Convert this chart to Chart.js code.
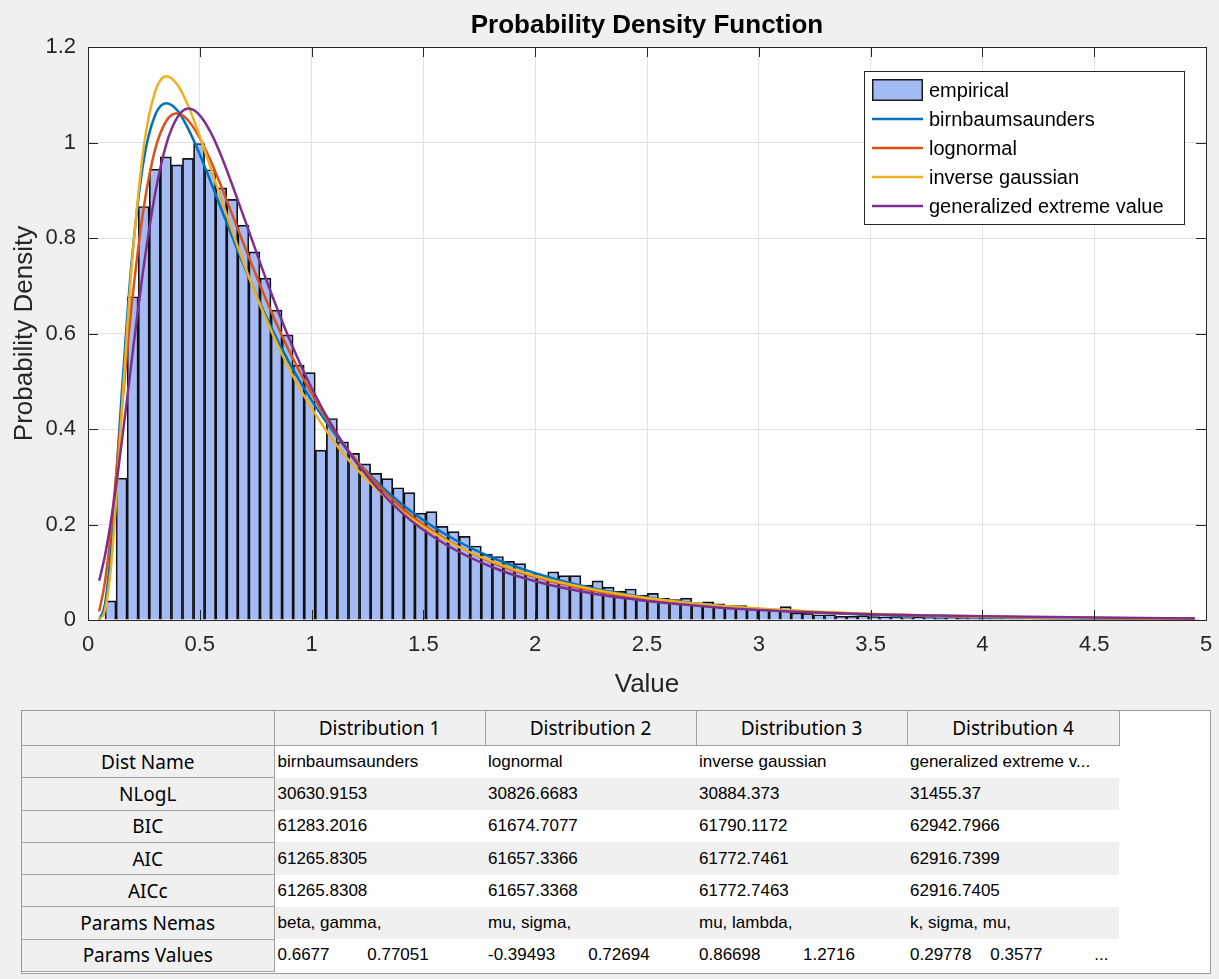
<!DOCTYPE html>
<html>
<head>
<meta charset="utf-8">
<script src="https://cdn.jsdelivr.net/npm/chart.js@4.4.1/dist/chart.umd.min.js"></script>
<style>
  html, body { margin:0; padding:0; background:#f0f0f0; }
  body { width:1219px; height:979px; position:relative; overflow:hidden; }
  #c { position:absolute; left:0; top:0; }
  #tblwrap { position:absolute; left:21px; top:710px; width:1190px; height:264px; background:#fff; border:1px solid #9a9a9a; box-sizing:border-box; }
  table { border-collapse:collapse; table-layout:fixed; position:absolute; left:0; top:0; }
  th { background:#f0f0f0; font-family:'Noto Sans','Open Sans',sans-serif; font-weight:normal; font-size:19px; color:#000; border-right:1px solid #a0a0a0; border-bottom:1px solid #a0a0a0; padding:0; text-align:center; white-space:nowrap; overflow:hidden; }
  thead th { height:34px; }
  tbody th { height:31.3px; }
  td { font-family:'Liberation Sans',Arial,sans-serif; font-size:17px; color:#000; padding:0 0 0 3px; white-space:pre; overflow:hidden; }
  tbody tr:nth-child(even) td { background:#f0f0f0; }
  tbody tr:nth-child(odd) td { background:#fff; }
  td.blank { background:#fff !important; }
  th.blank { background:#fff; border:none; }
</style>
</head>
<body>
<canvas id="c" width="1219" height="705"></canvas>
<div id="tblwrap"><table id="tbl"></table></div>
<script>
// ---------- data ----------
const binStart = 0.076;      // left edge of first histogram bin
const binWidth = 0.0495;     // histogram bin width
const empiricalDensity = [
  0.040, 0.297, 0.677, 0.866, 0.944, 0.970, 0.953, 0.967, 0.998, 0.943,
  0.905, 0.881, 0.827, 0.771, 0.716, 0.649, 0.597, 0.534, 0.518, 0.356,
  0.422, 0.373, 0.349, 0.327, 0.307, 0.296, 0.277, 0.267, 0.224, 0.227,
  0.196, 0.185, 0.175, 0.155, 0.138, 0.133, 0.123, 0.118, 0.096, 0.089,
  0.101, 0.093, 0.093, 0.073, 0.082, 0.069, 0.060, 0.065, 0.052, 0.056,
  0.046, 0.043, 0.046, 0.036, 0.038, 0.034, 0.030, 0.030, 0.026, 0.022,
  0.020, 0.028, 0.015, 0.014, 0.011, 0.011, 0.008, 0.008, 0.009, 0.007,
  0.006, 0.007, 0.005, 0.006, 0.005, 0.004, 0.005, 0.004, 0.003, 0.004,
  0.003, 0.003, 0.002, 0.003, 0.002, 0.002, 0.002, 0.001, 0.002, 0.001,
  0.001, 0.001, 0.001, 0.000, 0.001, 0.000, 0.001, 0.000, 0.001
];
const curveX = [0.05, 0.075, 0.1, 0.125, 0.15, 0.175, 0.2, 0.25, 0.3, 0.35, 0.4, 0.45, 0.5, 0.55, 0.6,
  0.7, 0.8, 0.9, 1.0, 1.1, 1.2, 1.4, 1.6, 1.8, 2.0, 2.25, 2.5, 2.75, 3.0, 3.5, 4.0, 4.5, 4.95];
const birnbaumsaunders = [0.001, 0.031, 0.132, 0.291, 0.468, 0.634, 0.774, 0.965, 1.057, 1.082, 1.067, 1.027, 0.975, 0.916, 0.856,
  0.739, 0.632, 0.539, 0.460, 0.392, 0.334, 0.244, 0.179, 0.132, 0.098, 0.067, 0.047, 0.033, 0.023, 0.011, 0.006, 0.003, 0.002];
const lognormal = [0.018, 0.077, 0.175, 0.300, 0.433, 0.562, 0.680, 0.866, 0.985, 1.045, 1.061, 1.045, 1.009, 0.960, 0.903,
  0.783, 0.667, 0.563, 0.474, 0.397, 0.334, 0.236, 0.169, 0.122, 0.090, 0.062, 0.043, 0.031, 0.022, 0.012, 0.007, 0.004, 0.003];
const inverseGaussian = [0.001, 0.019, 0.098, 0.245, 0.427, 0.607, 0.766, 0.993, 1.106, 1.139, 1.121, 1.075, 1.013, 0.945, 0.875,
  0.743, 0.626, 0.526, 0.443, 0.374, 0.317, 0.229, 0.167, 0.124, 0.092, 0.065, 0.046, 0.033, 0.024, 0.013, 0.007, 0.004, 0.002];
const genExtremeValue = [0.082, 0.133, 0.200, 0.279, 0.369, 0.464, 0.561, 0.743, 0.892, 0.996, 1.053, 1.071, 1.057, 1.020, 0.967,
  0.840, 0.709, 0.589, 0.486, 0.400, 0.330, 0.226, 0.158, 0.112, 0.081, 0.056, 0.040, 0.029, 0.021, 0.012, 0.008, 0.005, 0.003];
const seriesNames = ['empirical', 'birnbaumsaunders', 'lognormal', 'inverse gaussian', 'generalized extreme value'];
const chartTitle = 'Probability Density Function';
const xTickStep = 0.5, xMin = 0, xMax = 5;
const yTickStep = 0.2, yMin = 0, yMax = 1.2;

// table
const tableColumns = ['Distribution 1', 'Distribution 2', 'Distribution 3', 'Distribution 4'];
const tableRowNames = ['Dist Name', 'NLogL', 'BIC', 'AIC', 'AICc', 'Params Nemas', 'Params Values'];
const distNames = ['birnbaumsaunders', 'lognormal', 'inverse gaussian', 'generalized extreme v...'];
const nLogL = ['30630.9153', '30826.6683', '30884.373', '31455.37'];
const bic = ['61283.2016', '61674.7077', '61790.1172', '62942.7966'];
const aic = ['61265.8305', '61657.3366', '61772.7461', '62916.7399'];
const aicc = ['61265.8308', '61657.3368', '61772.7463', '62916.7405'];
const paramNames = ['beta, gamma,', 'mu, sigma,', 'mu, lambda,', 'k, sigma, mu,'];
const paramValues = ['0.6677        0.77051', '-0.39493       0.72694', '0.86698         1.2716', '0.29778    0.3577           ...'];

// ---------- build ----------
const histPoints = empiricalDensity.map((v, i) => ({ x: binStart + binWidth * (i + 0.5), y: v }));
const toPts = arr => arr.map((v, i) => ({ x: curveX[i], y: v }));
const fmt = v => String(+Number(v).toFixed(2));

const FONT = "'Liberation Sans', Arial, Helvetica, sans-serif";
Chart.defaults.font.family = FONT;
Chart.defaults.color = '#262626';

const frameAndLegend = {
  id: 'frameAndLegend',
  beforeDraw(chart) {
    const { ctx, chartArea: a } = chart;
    ctx.save();
    ctx.fillStyle = '#ffffff';
    ctx.fillRect(a.left, a.top, a.right - a.left, a.bottom - a.top);
    ctx.restore();
  },
  afterDatasetsDraw(chart) {
    const { ctx, chartArea: a, scales } = chart;
    ctx.save();
    // inward ticks
    ctx.strokeStyle = '#262626';
    ctx.lineWidth = 1;
    const tl = 10;
    scales.x.ticks.forEach(t => {
      const px = Math.round(scales.x.getPixelForValue(t.value)) + 0.5;
      ctx.beginPath();
      ctx.moveTo(px, a.bottom); ctx.lineTo(px, a.bottom - tl);
      ctx.moveTo(px, a.top); ctx.lineTo(px, a.top + tl);
      ctx.stroke();
    });
    scales.y.ticks.forEach(t => {
      const py = Math.round(scales.y.getPixelForValue(t.value)) + 0.5;
      ctx.beginPath();
      ctx.moveTo(a.left, py); ctx.lineTo(a.left + tl, py);
      ctx.moveTo(a.right, py); ctx.lineTo(a.right - tl, py);
      ctx.stroke();
    });
    // frame
    ctx.strokeRect(Math.round(a.left) + 0.5, Math.round(a.top) + 0.5, Math.round(a.right - a.left), Math.round(a.bottom - a.top));

    // title centred over the axes
    ctx.fillStyle = '#000';
    ctx.font = 'bold 26px ' + FONT;
    ctx.textAlign = 'center';
    ctx.textBaseline = 'middle';
    ctx.fillText(chartTitle, (a.left + a.right) / 2, 26);

    // legend box
    const bx = Math.round(a.right) - 342, by = Math.round(a.top) + 24, bw = 320, bh = 153;
    ctx.fillStyle = '#ffffff';
    ctx.fillRect(bx, by, bw, bh);
    ctx.strokeStyle = '#262626';
    ctx.lineWidth = 1;
    ctx.strokeRect(bx + 0.5, by + 0.5, bw, bh);
    const ds = chart.data.datasets;
    ctx.font = '20px ' + FONT;
    ctx.textBaseline = 'middle';
    ctx.textAlign = 'left';
    ds.forEach((d, i) => {
      const y = by + 19 + 29 * i;
      const sx = bx + 8, sw = 51;
      if (d.type === 'bar' || !d.type) {
        ctx.fillStyle = d.backgroundColor;
        ctx.fillRect(sx, y - 11, sw, 22);
        ctx.strokeStyle = '#1a1a1a';
        ctx.lineWidth = 1.5;
        ctx.strokeRect(sx + 0.75, y - 11 + 0.75, sw - 1.5, 22 - 1.5);
      } else {
        ctx.strokeStyle = d.borderColor;
        ctx.lineWidth = 2.5;
        ctx.beginPath();
        ctx.moveTo(sx, y); ctx.lineTo(sx + sw, y);
        ctx.stroke();
      }
      ctx.fillStyle = '#000000';
      ctx.fillText(d.label, bx + 65, y + 1);
    });
    ctx.restore();
  }
};

const lineDs = (label, arr, color, order) => ({
  type: 'line', label, data: toPts(arr), borderColor: color, backgroundColor: color,
  borderWidth: 2.5, pointRadius: 0, fill: false, cubicInterpolationMode: 'monotone', order
});

new Chart(document.getElementById('c'), {
  type: 'bar',
  data: {
    datasets: [
      { type: 'bar', label: seriesNames[0], data: histPoints, backgroundColor: 'rgb(163,186,244)',
        borderColor: '#101010', borderWidth: 1.7, barPercentage: 1, categoryPercentage: 1, order: 5 },
      lineDs(seriesNames[1], birnbaumsaunders, '#0072BD', 4),
      lineDs(seriesNames[2], lognormal, '#D95319', 3),
      lineDs(seriesNames[3], inverseGaussian, '#EDB120', 2),
      lineDs(seriesNames[4], genExtremeValue, '#7E2F8E', 1)
    ]
  },
  options: {
    responsive: false,
    animation: false,
    devicePixelRatio: 1,
    layout: { padding: { left: 0, right: 13, top: 47, bottom: 0 } },
    plugins: {
      legend: { display: false },
      tooltip: { enabled: false },
      title: { display: false }
    },
    scales: {
      x: {
        type: 'linear', min: xMin, max: xMax, offset: false,
        grid: { color: '#e2e2e2', drawTicks: false, offset: false },
        border: { display: false },
        ticks: { stepSize: xTickStep, padding: 12, font: { size: 22 }, color: '#262626', maxRotation: 0, callback: fmt },
        title: { display: true, text: 'Value', font: { size: 26 }, color: '#262626', padding: { top: 0, bottom: 5 } },
        afterFit: ax => { ax.height = 85; ax.paddingLeft = 0; ax.paddingRight = 0; }
      },
      y: {
        min: yMin, max: yMax,
        grid: { color: '#e2e2e2', drawTicks: false },
        border: { display: false },
        ticks: { stepSize: yTickStep, padding: 12, font: { size: 22 }, color: '#262626', callback: fmt },
        title: { display: true, text: 'Probability Density', font: { size: 26 }, color: '#262626', padding: { top: 9, bottom: 0 } },
        afterFit: ax => { ax.width = 88; ax.paddingTop = 0; ax.paddingBottom = 0; }
      }
    }
  },
  plugins: [frameAndLegend]
});

// ---------- table ----------
(function () {
  const tbl = document.getElementById('tbl');
  const widths = [252, 211, 211, 211, 212, 91];
  const cg = document.createElement('colgroup');
  widths.forEach(w => { const c = document.createElement('col'); c.style.width = w + 'px'; cg.appendChild(c); });
  tbl.appendChild(cg);
  const thead = document.createElement('thead');
  const hr = document.createElement('tr');
  hr.appendChild(document.createElement('th'));
  tableColumns.forEach(c => { const th = document.createElement('th'); th.textContent = c; hr.appendChild(th); });
  const blankH = document.createElement('th'); blankH.className = 'blank'; hr.appendChild(blankH);
  thead.appendChild(hr);
  tbl.appendChild(thead);
  const tbody = document.createElement('tbody');
  const rows = [distNames, nLogL, bic, aic, aicc, paramNames, paramValues];
  rows.forEach((r, i) => {
    const tr = document.createElement('tr');
    const th = document.createElement('th'); th.textContent = tableRowNames[i]; tr.appendChild(th);
    r.forEach(v => { const td = document.createElement('td'); td.textContent = v; tr.appendChild(td); });
    const b = document.createElement('td'); b.className = 'blank'; tr.appendChild(b);
    tbody.appendChild(tr);
  });
  tbl.appendChild(tbody);
})();
</script>
</body>
</html>
